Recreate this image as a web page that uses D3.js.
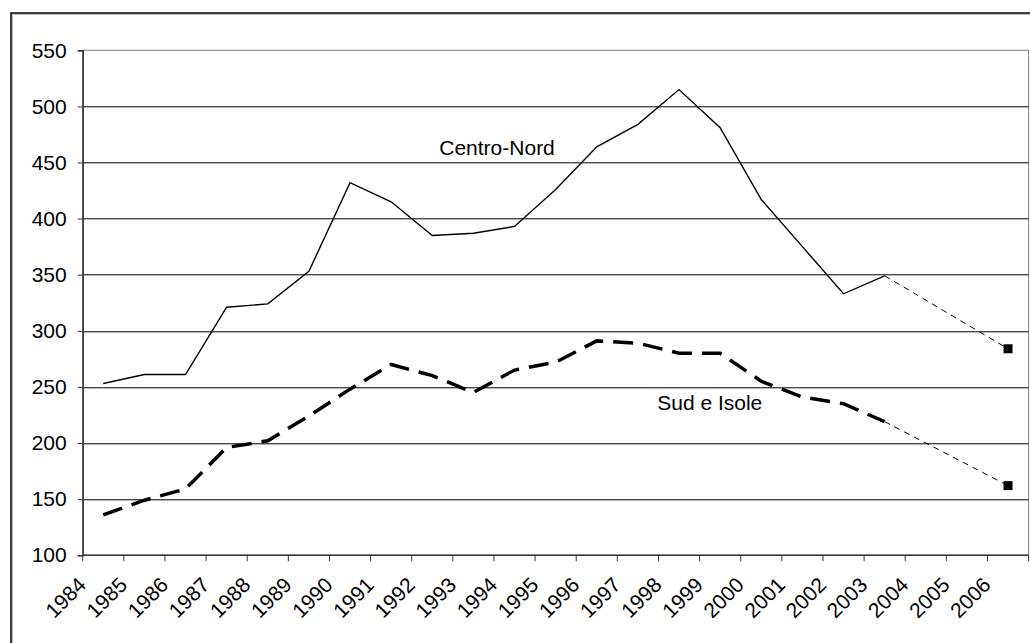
<!DOCTYPE html>
<html>
<head>
<meta charset="utf-8">
<script src="https://cdnjs.cloudflare.com/ajax/libs/d3/7.8.5/d3.min.js"></script>
<style>
  body { margin: 0; background: #fff; }
  svg { display: block; }
  text { font-family: "Liberation Sans", Arial, sans-serif; fill: #000; }
</style>
</head>
<body>
<div id="chart"></div>
<script>
var years = ["1984","1985","1986","1987","1988","1989","1990","1991","1992","1993","1994","1995",
             "1996","1997","1998","1999","2000","2001","2002","2003","2004","2005","2006"];

// observed values 1984-2003
var obsYears = years.slice(0, 20);
var centroNord = [253,261,261,321,324,353,432,415,385,387,393,426,464,484,515,481,417,375,333,349];
var sudIsole   = [136,149,159,196,202,224,248,270,260,245,265,272,291,289,280,280,255,241,235,219];

// projection 2003 -> 2006
var projYears = ["2003","2006"];
var projCentroNord = [349,284];
var projSudIsole   = [219,162];

var yTicks = [100,150,200,250,300,350,400,450,500,550];

var W = 1030, H = 643;
var margin = {top: 50.3, right: 1.4, bottom: 87.8, left: 82.7},
    width = W - margin.left - margin.right,
    height = H - margin.top - margin.bottom;

var svg = d3.select("#chart").append("svg")
    .attr("width", W)
    .attr("height", H);

// outer frame
svg.append("rect")
    .attr("x", 11).attr("y", 13)
    .attr("width", W).attr("height", H)
    .attr("fill", "none")
    .attr("stroke", "#000")
    .attr("stroke-width", 1.5);
svg.append("path")
    .attr("d", "M12.5," + (H + 5) + "V14.5H" + (W + 5))
    .attr("fill", "none")
    .attr("stroke", "#bbb")
    .attr("stroke-width", 1);

var g = svg.append("g")
    .attr("transform", "translate(" + margin.left + "," + margin.top + ")");

var x = d3.scaleBand().domain(years).range([0, width]);
var y = d3.scaleLinear().domain([100, 550]).range([height, 0]);
var cx = function (yr) { return x(yr) + x.bandwidth() / 2; };

// plot area border
g.append("rect")
    .attr("width", width).attr("height", height)
    .attr("fill", "none")
    .attr("stroke", "#808080")
    .attr("stroke-width", 1);

// gridlines
g.selectAll(".grid")
    .data(yTicks.filter(function (d) { return d > 100 && d < 550; }))
    .enter().append("line")
    .attr("class", "grid")
    .attr("x1", 0).attr("x2", width)
    .attr("y1", function (d) { return Math.round(y(d)) + 0.5; })
    .attr("y2", function (d) { return Math.round(y(d)) + 0.5; })
    .attr("stroke", "#000")
    .attr("stroke-width", 1);

// y axis
var yAxis = d3.axisLeft(y).tickValues(yTicks).tickSize(5).tickPadding(11);
var gy = g.append("g").call(yAxis);
gy.select(".domain").attr("stroke", "#333").attr("stroke-width", 1.5);
gy.selectAll(".tick line").attr("stroke", "#333");
gy.selectAll("text").style("font-size", "21px").attr("fill", "#000");

// x axis: ticks on band boundaries
var bounds = years.map(function (d) { return x(d); }).concat([width]);
var gx = g.append("g").attr("transform", "translate(0," + height + ")");
gx.append("line")
    .attr("x1", 0).attr("x2", width)
    .attr("stroke", "#333").attr("stroke-width", 1.5);
gx.selectAll(".xtick")
    .data(bounds)
    .enter().append("line")
    .attr("class", "xtick")
    .attr("x1", function (d) { return d; })
    .attr("x2", function (d) { return d; })
    .attr("y1", 0).attr("y2", 6)
    .attr("stroke", "#333");
gx.selectAll(".xlabel")
    .data(years)
    .enter().append("text")
    .attr("class", "xlabel")
    .attr("transform", function (d) { return "translate(" + (cx(d) - 16) + ",31) rotate(-45)"; })
    .style("text-anchor", "end")
    .style("font-size", "21px")
    .text(function (d) { return d; });

var line = d3.line()
    .x(function (d) { return cx(d[0]); })
    .y(function (d) { return y(d[1]); });

// Centro-Nord
g.append("path")
    .datum(d3.zip(obsYears, centroNord))
    .attr("d", line)
    .attr("fill", "none")
    .attr("stroke", "#000")
    .attr("stroke-width", 1.4)
    .attr("stroke-linejoin", "miter");

// Sud e Isole
g.append("path")
    .datum(d3.zip(obsYears, sudIsole))
    .attr("d", line)
    .attr("fill", "none")
    .attr("stroke", "#000")
    .attr("stroke-width", 3.5)
    .attr("stroke-dasharray", "20,10");

// projections
[projCentroNord, projSudIsole].forEach(function (vals) {
    var pts = d3.zip(projYears, vals);
    g.append("path")
        .datum(pts)
        .attr("d", line)
        .attr("fill", "none")
        .attr("stroke", "#000")
        .attr("stroke-width", 1)
        .attr("stroke-dasharray", "6,5");
    g.append("rect")
        .datum(pts[1])
        .attr("x", function (d) { return cx(d[0]) - 4.5; })
        .attr("y", function (d) { return y(d[1]) - 4.5; })
        .attr("width", 9).attr("height", 9)
        .attr("fill", "#000");
});

// series labels
g.append("text")
    .attr("x", cx("1992") + 7)
    .attr("y", y(457))
    .style("font-size", "21px")
    .text("Centro-Nord");
g.append("text")
    .attr("x", cx("2000") + 1)
    .attr("y", y(229))
    .style("text-anchor", "end")
    .style("font-size", "21px")
    .text("Sud e Isole");
</script>
</body>
</html>
